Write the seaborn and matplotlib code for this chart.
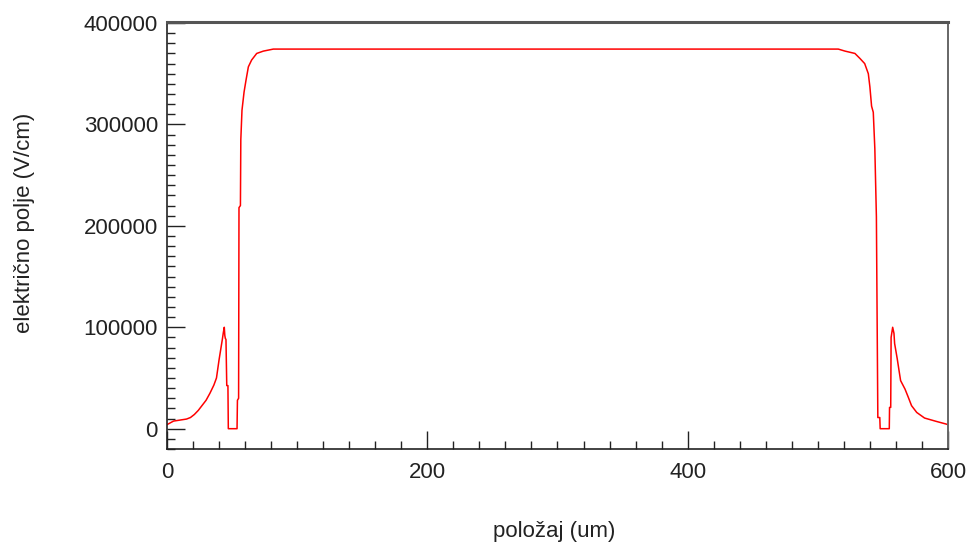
import matplotlib
matplotlib.use("Agg")
import matplotlib.pyplot as plt
from matplotlib.ticker import MultipleLocator
import seaborn as sns
import pandas as pd

# Electric field profile across the device (position in um, field in V/cm)
position = [0, 5, 15, 18, 21, 24, 27, 30, 33, 36, 38, 40, 41.5, 42.5, 43.3, 44.0,
            44.4, 44.8, 45.3, 45.9, 46.8, 47.1, 53.8, 54.1, 55.0, 55.3, 56.4, 56.7,
            57.6, 59.2, 60.7, 62.5, 65.0, 68.9, 74.0, 81.7, 300.0, 515.7, 520.9,
            528.5, 532.4, 536.0, 538.8, 540.0, 541.3, 542.6, 543.8, 545.0, 546.1,
            547.6, 547.9, 554.9, 555.1, 556.0, 556.3, 557.5, 558.5, 559.0, 561.0,
            562.6, 563.6, 567.0, 569.5, 572.0, 576.0, 582.0, 591.0, 598.5, 600.0]
field = [4000, 7500, 9500, 11000, 14000, 18000, 23000, 28000, 35000, 43000, 50000,
         68000, 80000, 88000, 95000, 100000, 92000, 89000, 88000, 42500, 42500, 0,
         0, 28000, 30000, 218000, 220000, 285000, 314000, 332000, 343700, 356800,
         363500, 370000, 372300, 374300, 374300, 374300, 372300, 370000, 365000,
         360000, 350000, 337000, 318000, 312000, 276000, 209000, 11000, 11000, 0,
         0, 21000, 21000, 90000, 100000, 94000, 84000, 69000, 55600, 47400, 39000,
         31000, 22700, 16000, 10500, 7200, 4600, 4000]

x_ticks = [0, 200, 400, 600]
y_ticks = [0, 100000, 200000, 300000, 400000]

df = pd.DataFrame({"position": position, "field": field})

sns.set_style("white")
plt.rcParams["font.family"] = ["Liberation Sans", "DejaVu Sans"]

fig = plt.figure(figsize=(9.71, 5.46), dpi=100)
ax = fig.add_axes([0.172, 0.1777, 0.8043, 0.782])

sns.lineplot(data=df, x="position", y="field", color="#ff0000", linewidth=1.1,
             ax=ax, sort=False, estimator=None)

ax.set_xlim(0, 600)
ax.set_ylim(-20000, 401000)
ax.set_xticks(x_ticks)
ax.set_yticks(y_ticks)
ax.set_xticklabels([str(v) for v in x_ticks])
ax.set_yticklabels([str(v) for v in y_ticks])
ax.xaxis.set_minor_locator(MultipleLocator(20))
ax.yaxis.set_minor_locator(MultipleLocator(10000))

# inward ticks on the bottom and left axes only
ax.tick_params(axis="both", which="both", direction="in", color="#222222",
               width=1, labelsize=16, labelcolor="#222222",
               bottom=True, left=True, top=False, right=False)
ax.tick_params(axis="both", which="major", length=13)
ax.tick_params(axis="both", which="minor", length=6)
ax.tick_params(axis="x", which="major", pad=9.5)
ax.tick_params(axis="y", which="major", pad=6.5)

for side in ["left", "bottom"]:
    ax.spines[side].set_color("#222222")
    ax.spines[side].set_linewidth(1.2)
ax.spines["top"].set_color("#555555")
ax.spines["top"].set_linewidth(2.2)
ax.spines["right"].set_color("#666666")
ax.spines["right"].set_linewidth(1.4)

ax.set_xlabel("položaj (um)", fontsize=16, color="#222222", va="center")
ax.set_ylabel("električno polje (V/cm)", fontsize=16, color="#222222", va="center")
ax.xaxis.set_label_coords(0.4955, -0.194)
ax.yaxis.set_label_coords(-0.183, 0.529)

fig.savefig("out.png", dpi=100)
